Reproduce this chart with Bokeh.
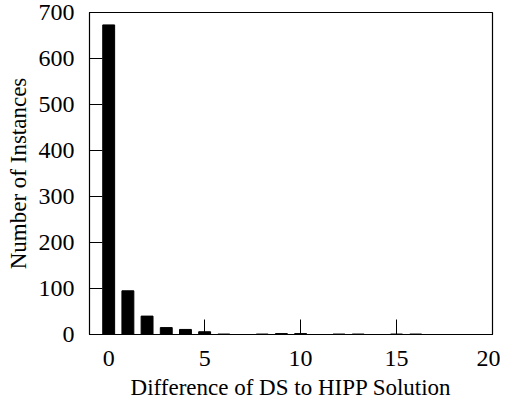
from bokeh.plotting import figure
from bokeh.models import Range1d, FixedTicker
from bokeh.embed import file_html
from bokeh.resources import INLINE

diffs = list(range(0, 21))
counts = [673, 95, 40, 15, 11, 6, 1, 0, 1, 2, 2, 0, 1, 1, 0, 1, 1, 0, 0, 0, 0]
x_ticks = [0, 5, 10, 15, 20]
y_ticks = [0, 100, 200, 300, 400, 500, 600, 700]

p = figure(width=500, height=402, output_backend="svg", toolbar_location=None,
           x_range=Range1d(-1, 20), y_range=Range1d(0, 700),
           min_border_left=89, min_border_right=8, min_border_top=12, min_border_bottom=60)

p.vbar(x=diffs, top=counts, width=0.62, fill_color="black", line_color="black", line_width=1)

p.grid.visible = False
p.outline_line_color = "black"
p.outline_line_width = 1.2
p.background_fill_color = "white"

font = "Liberation Serif"
for ax in (p.xaxis, p.yaxis):
    ax.major_label_text_font = font
    ax.major_label_text_font_size = "24px"
    ax.major_label_text_color = "black"
    ax.axis_label_text_font = font
    ax.axis_label_text_font_size = "23px"
    ax.axis_label_text_font_style = "normal"
    ax.axis_label_text_color = "black"
    ax.minor_tick_line_color = None
    ax.major_tick_out = 0
    ax.major_tick_line_color = "black"
    ax.axis_line_color = "black"

p.xaxis.ticker = FixedTicker(ticks=x_ticks)
p.yaxis.ticker = FixedTicker(ticks=y_ticks)
p.xaxis.major_tick_in = 15
p.yaxis.major_tick_in = 13
p.xaxis.major_label_standoff = 16
p.yaxis.major_label_standoff = 15
p.xaxis.axis_label = "Difference of DS to HIPP Solution"
p.yaxis.axis_label = "Number of Instances"
p.xaxis.axis_label_standoff = 6
p.yaxis.axis_label_standoff = 5

open("out.html", "w").write(file_html(p, INLINE))
